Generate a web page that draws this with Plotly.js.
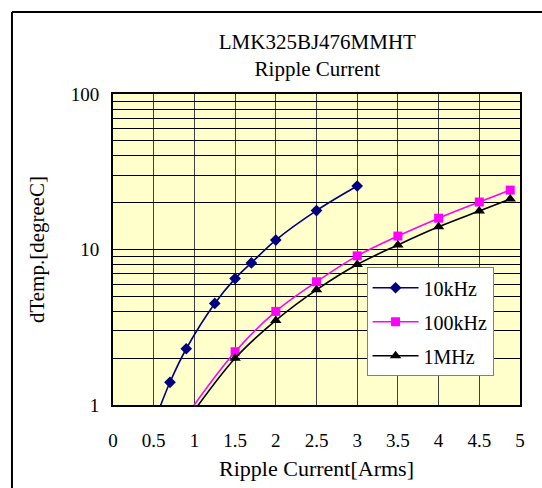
<!DOCTYPE html>
<html>
<head>
<meta charset="utf-8">
<script src="https://cdn.plot.ly/plotly-3.0.1.min.js"></script>
<style>html,body{margin:0;padding:0;background:#fff;}#chart{width:542px;height:488px;}</style>
</head>
<body>
<div id="chart"></div>
<script>
// Series data (first point of each series lies below the visible range)
const x10k = [0.5, 0.7, 0.9, 1.25, 1.5, 1.7, 2.0, 2.5, 3.0];
const y10k = [0.76, 1.4, 2.3, 4.5, 6.5, 8.2, 11.5, 17.8, 25.6];
const x100k = [0.9, 1.5, 2.0, 2.5, 3.0, 3.5, 4.0, 4.5, 4.88];
const y100k = [0.85, 2.2, 4.0, 6.2, 9.1, 12.2, 15.9, 20.2, 24.1];
const x1M = [0.9, 1.5, 2.0, 2.5, 3.0, 3.5, 4.0, 4.5, 4.88];
const y1M = [0.78, 2.0, 3.5, 5.5, 8.0, 10.7, 14.0, 17.7, 21.1];
const seriesNames = ['10kHz', '100kHz', '1MHz'];

// Tick labels
const xTickVals = [0, 0.5, 1, 1.5, 2, 2.5, 3, 3.5, 4, 4.5, 5];
const xTickText = ['0', '0.5', '1', '1.5', '2', '2.5', '3', '3.5', '4', '4.5', '5'];
const yTickVals = [1,2,3,4,5,6,7,8,9,10,20,30,40,50,60,70,80,90,100];
const yTickText = ['1','','','','','','','','','10','','','','','','','','','100'];

const serif = "'Liberation Serif', 'Times New Roman', serif";

const traces = [
  {x: x10k, y: y10k, name: seriesNames[0], mode: 'lines+markers', legendgroup: 'a',
   line: {color: '#000080', width: 1.6, shape: 'spline', smoothing: 1},
   marker: {symbol: 'diamond', size: 9, color: '#000080'}},
  {x: x100k, y: y100k, name: seriesNames[1], mode: 'lines+markers', legendgroup: 'b',
   line: {color: '#FF00FF', width: 1.6, shape: 'spline', smoothing: 1},
   marker: {symbol: 'square', size: 9, color: '#FF00FF'}},
  {x: x1M, y: y1M, name: seriesNames[2], mode: 'lines+markers', legendgroup: 'c',
   line: {color: '#000000', width: 1.6, shape: 'spline', smoothing: 1},
   marker: {symbol: 'triangle-up', size: 10, color: '#000000'}}
];

const layout = {
  width: 542, height: 488,
  margin: {l: 113, r: 22, t: 94, b: 83},
  paper_bgcolor: '#ffffff',
  plot_bgcolor: '#FFFFCC',
  font: {family: serif, color: '#000000', size: 19},
  showlegend: true,
  title: {
    text: 'LMK325BJ476MMHT<br>Ripple Current',
    font: {family: serif, size: 21, color: '#000'},
    x: 0.502, xref: 'paper', xanchor: 'center',
    y: 0.90, yref: 'container', yanchor: 'top'
  },
  xaxis: {
    range: [0, 5], tickvals: xTickVals, ticktext: xTickText,
    showgrid: true, gridcolor: '#404040', gridwidth: 1,
    showline: true, linecolor: '#000', linewidth: 2, mirror: true,
    zeroline: false, ticks: '', ticklabelstandoff: 17,
    tickfont: {family: serif, size: 19},
    title: {text: 'Ripple Current[Arms]', font: {family: serif, size: 22}, standoff: 11}
  },
  yaxis: {
    type: 'log', range: [0, 2], tickvals: yTickVals, ticktext: yTickText,
    showgrid: true, gridcolor: '#000000', gridwidth: 1,
    showline: true, linecolor: '#000', linewidth: 2, mirror: true,
    zeroline: false, ticks: '', ticklabelstandoff: 8,
    tickfont: {family: serif, size: 19},
    title: {text: 'dTemp.[degreeC]', font: {family: serif, size: 21}, standoff: 20}
  },
  legend: {
    x: 0.623, y: 0.443, xanchor: 'left', yanchor: 'top',
    bgcolor: '#ffffff', bordercolor: '#808080', borderwidth: 1,
    font: {family: serif, size: 20},
    traceorder: 'grouped', tracegroupgap: 5, itemwidth: 46
  },
  shapes: [
    {type: 'line', xref: 'paper', yref: 'paper', x0: -0.2482, x1: -0.2482, y0: -0.3, y1: 1.2637,
     line: {color: '#000', width: 2}},
    {type: 'line', xref: 'paper', yref: 'paper', x0: -0.2482, x1: 1.1, y0: 1.2637, y1: 1.2637,
     line: {color: '#000', width: 2}}
  ]
};

Plotly.newPlot('chart', traces, layout, {staticPlot: true, displayModeBar: false});
</script>
</body>
</html>
